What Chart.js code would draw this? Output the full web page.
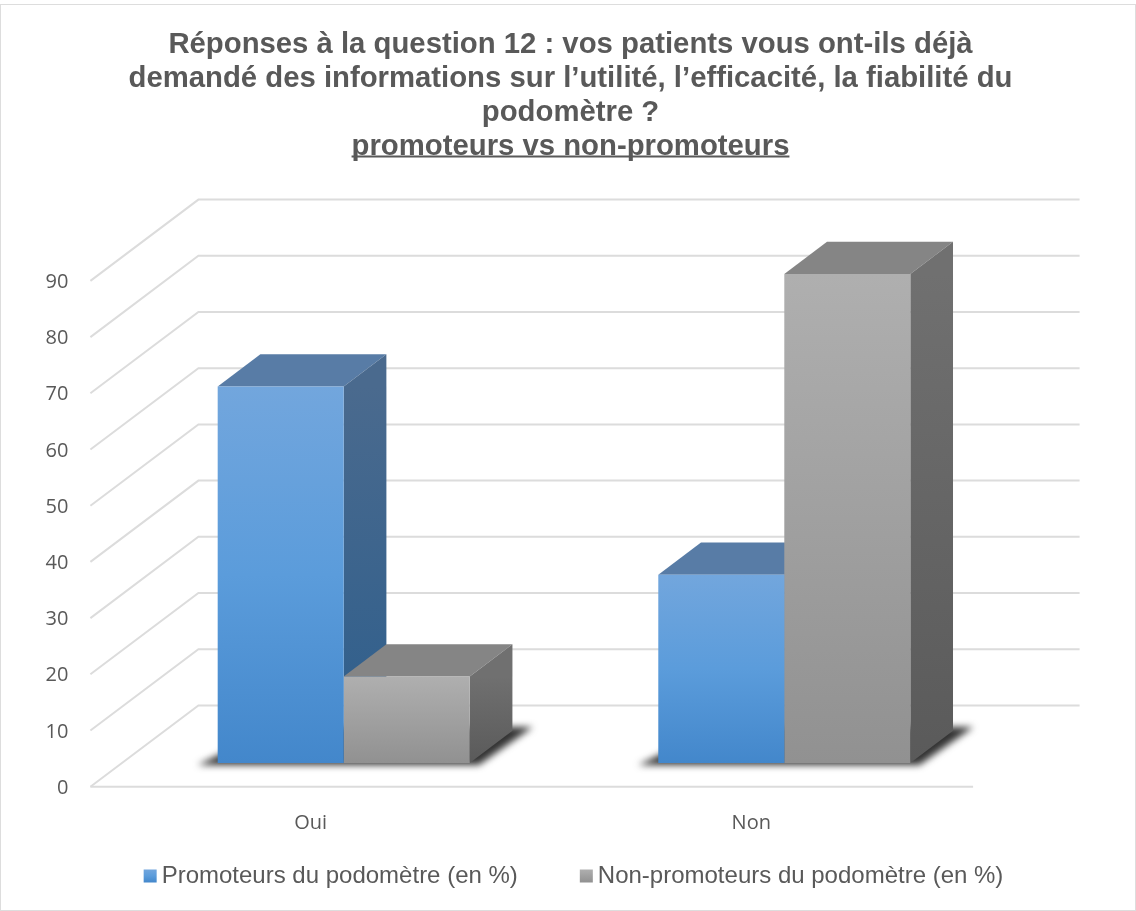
<!DOCTYPE html>
<html>
<head>
<meta charset="utf-8">
<style>html,body{margin:0;padding:0;background:#fff}canvas{display:block}</style>
<script src="https://cdn.jsdelivr.net/npm/chart.js@4"></script>
</head>
<body>
<canvas id="c" width="1136" height="911"></canvas>
<script>
const categories = ["Oui", "Non"];
const promoteurs = [67, 33.5];
const nonPromoteurs = [15.4, 87];
const seriesNames = ["Promoteurs du podomètre (en %)", "Non-promoteurs du podomètre (en %)"];
const titleLines = [
  "Réponses à la question 12 : vos patients vous ont-ils déjà",
  "demandé des informations sur l’utilité, l’efficacité, la fiabilité du",
  "podomètre ?",
  "promoteurs vs non-promoteurs"
];

const FRONT = {dx: -33, dy: 23.7};   // floor front edge relative to the bar plane
const WALL = {dx: 75, dy: -57.6};    // back wall relative to the bar plane
const DEPTH = {dx: 42.7, dy: -32.3}; // bar depth
const BLUE = {front: ['#72A6DD', '#5B9CDB', '#4387CB'], top: '#587CA6', side: ['#4A6A8E', '#2D5E8C']};
const GREY = {front: ['#AFAFAF', '#A0A0A0', '#919191'], top: '#858585', side: ['#707070', '#5A5A5A']};
const GRID = '#DCDCDC';
const TITLE_LINE = 34;

function frontGradient(ctx, top, bottom, c) {
  const g = ctx.createLinearGradient(0, top, 0, bottom);
  g.addColorStop(0, c[0]); g.addColorStop(0.5, c[1]); g.addColorStop(1, c[2]);
  return g;
}
function scriptedFill(pal) {
  return (c) => {
    if (c.dataIndex === undefined || !c.parsed) return pal.front[1];
    const s = c.chart.scales.y;
    return frontGradient(c.chart.ctx, s.getPixelForValue(c.parsed.y), s.getPixelForValue(0), pal.front);
  };
}
function poly(ctx, pts, fill) {
  ctx.beginPath();
  pts.forEach((p, i) => i ? ctx.lineTo(p[0], p[1]) : ctx.moveTo(p[0], p[1]));
  ctx.closePath(); ctx.fillStyle = fill; ctx.fill();
}

const scene = {
  id: 'scene',
  afterLayout(chart) {
    chart.legend.left += 3; chart.legend.right += 3;
    // let the category labels sit below the floor without being clipped
    chart.scales.x.bottom += 45; chart.scales.x.height += 45;
  },
  beforeDraw(chart) {
    const ctx = chart.ctx;
    ctx.save();
    ctx.strokeStyle = '#DDDDDD'; ctx.lineWidth = 1;
    ctx.strokeRect(0.5, 4.5, chart.width - 1, 906);
    ctx.restore();
  },
  beforeDatasetsDraw(chart) {
    const ctx = chart.ctx, s = chart.scales.y, a = chart.chartArea;
    ctx.save();
    ctx.strokeStyle = GRID; ctx.lineWidth = 2;
    s.ticks.forEach(t => {
      const y = s.getPixelForValue(t.value);
      ctx.beginPath();
      ctx.moveTo(a.left + FRONT.dx, y + FRONT.dy);
      ctx.lineTo(a.left + WALL.dx, y + WALL.dy);
      ctx.lineTo(a.right + WALL.dx, y + WALL.dy);
      ctx.stroke();
    });
    const y0 = s.getPixelForValue(0);
    ctx.beginPath();
    ctx.moveTo(a.left + FRONT.dx, y0 + FRONT.dy);
    ctx.lineTo(a.right + FRONT.dx + 1.5, y0 + FRONT.dy);
    ctx.stroke();
    // floor shadow
    const m0 = chart.getDatasetMeta(0), m1 = chart.getDatasetMeta(1);
    ctx.save();
    ctx.filter = 'blur(3.5px)';
    m0.data.forEach((b, i) => {
      const l = b.x - b.width / 2, r = m1.data[i].x + m1.data[i].width / 2;
      poly(ctx, [[l - 20, y0 + 2], [r + 9, y0 + 2], [r + 63, y0 - 36], [l + 60, y0 - 36]], '#333333');
    });
    ctx.restore();
    // top and side faces: blue first, grey over it; the library then paints the front faces
    [0, 1].forEach(idx => {
      const pal = idx === 0 ? BLUE : GREY;
      chart.getDatasetMeta(idx).data.forEach(b => {
        const l = b.x - b.width / 2, r = b.x + b.width / 2;
        const dx = DEPTH.dx, dy = DEPTH.dy;
        poly(ctx, [[l, b.y], [r, b.y], [r + dx, b.y + dy], [l + dx, b.y + dy]], pal.top);
        const g = ctx.createLinearGradient(0, b.y, 0, y0);
        g.addColorStop(0, pal.side[0]); g.addColorStop(1, pal.side[1]);
        poly(ctx, [[r, b.y], [r + dx, b.y + dy], [r + dx, y0 + dy], [r, y0]], g);
      });
    });
    ctx.restore();
  },
  afterDraw(chart) {
    const ctx = chart.ctx;
    // legend swatches
    chart.legend.legendHitBoxes.forEach((h, i) => {
      const pal = i === 0 ? BLUE : GREY;
      const top = h.top + (h.height - 13) / 2;
      ctx.fillStyle = frontGradient(ctx, top, top + 13, pal.front);
      ctx.fillRect(h.left, top, 13, 13);
    });
    // underline of the last title line
    const t = chart.titleBlock, o = chart.options.plugins.title;
    ctx.save();
    ctx.font = `bold ${o.font.size}px ${o.font.family}`;
    const w = ctx.measureText(titleLines[3]).width;
    const cx = (t.left + t.right) / 2;
    const y = t.top + o.padding.top + TITLE_LINE * 3.5 + 9.5;
    ctx.strokeStyle = o.color; ctx.lineWidth = 2;
    ctx.beginPath(); ctx.moveTo(cx - w / 2, y); ctx.lineTo(cx + w / 2, y); ctx.stroke();
    ctx.restore();
  }
};

new Chart(document.getElementById('c'), {
  type: 'bar',
  data: {
    labels: categories,
    datasets: [
      {label: seriesNames[0], data: promoteurs, backgroundColor: scriptedFill(BLUE)},
      {label: seriesNames[1], data: nonPromoteurs, backgroundColor: scriptedFill(GREY)}
    ]
  },
  plugins: [scene],
  options: {
    responsive: false,
    animation: false,
    events: [],
    layout: {padding: {left: 5, right: 0, top: 28, bottom: 13}},
    datasets: {bar: {barPercentage: 1, categoryPercentage: 0.572, borderWidth: 0}},
    scales: {
      x: {
        grid: {display: false}, border: {display: false},
        ticks: {color: '#595959', font: {family: '"Open Sans"', size: 20}, padding: 40, labelOffset: -33, maxRotation: 0},
        afterFit(s) { s.height = 39; }
      },
      y: {
        min: 0, max: 90,
        grid: {display: false, drawTicks: false}, border: {display: false},
        ticks: {stepSize: 10, color: '#595959', font: {family: '"Open Sans"', size: 20}, padding: 55, labelOffset: 25},
        afterFit(s) { s.width = 118.4; }
      },
      spacer: {
        position: 'right', min: 0, max: 90,
        grid: {display: false, drawTicks: false}, border: {display: false},
        ticks: {display: false},
        afterFit(s) { s.width = 131.4; }
      }
    },
    plugins: {
      tooltip: {enabled: false},
      title: {
        display: true, text: titleLines, color: '#595959',
        font: {family: '"Liberation Sans"', size: 29.3, weight: 'bold', lineHeight: '34px'},
        padding: {top: 0, bottom: 93.2}
      },
      legend: {
        display: true, position: 'bottom',
        labels: {
          color: '#595959', font: {family: '"Liberation Sans"', size: 24},
          boxWidth: 6, boxHeight: 13, padding: 62,
          generateLabels: (chart) => chart.data.datasets.map((d, i) => ({
            text: d.label, fillStyle: 'rgba(0,0,0,0)', strokeStyle: 'rgba(0,0,0,0)', lineWidth: 0, datasetIndex: i, fontColor: '#595959'
          }))
        }
      }
    }
  }
});
</script>
</body>
</html>
